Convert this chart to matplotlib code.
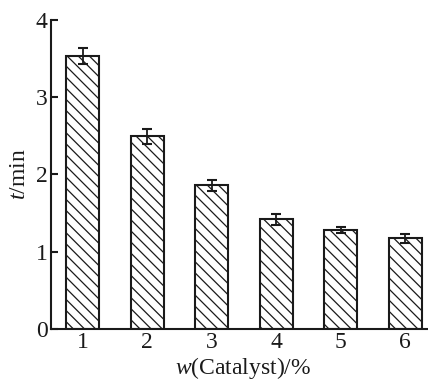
import matplotlib
matplotlib.use("Agg")
import matplotlib.pyplot as plt
import numpy as np

plt.rcParams["font.family"] = "Liberation Serif"
plt.rcParams["mathtext.fontset"] = "custom"
plt.rcParams["mathtext.rm"] = "Liberation Serif"
plt.rcParams["mathtext.it"] = "Liberation Serif:italic"
plt.rcParams["hatch.linewidth"] = 0.9

# catalyst content (%) and reaction time (min)
catalyst = [1, 2, 3, 4, 5, 6]
time_min = [3.53, 2.49, 1.855, 1.42, 1.28, 1.17]
time_err = [0.10, 0.10, 0.065, 0.07, 0.035, 0.055]

fig = plt.figure(figsize=(4.28, 3.83), dpi=100)
ax = fig.add_axes([0.118, 0.141, 0.88, 0.808])

ax.bar(catalyst, time_min, width=0.51, color="white", edgecolor="#1a1a1a",
       linewidth=1.5, hatch="\\\\\\")
ax.errorbar(catalyst, time_min, yerr=time_err, fmt="none", ecolor="#1a1a1a",
            elinewidth=1.3, capsize=3.3, capthick=1.5)

ax.set_xlim(0.5, 6.34)
ax.set_ylim(0, 4)
ax.set_yticks([0, 1, 2, 3, 4])
ax.set_xticks(catalyst)

for s in ["top", "right"]:
    ax.spines[s].set_visible(False)
for s in ["left", "bottom"]:
    ax.spines[s].set_linewidth(1.5)
    ax.spines[s].set_color("#1a1a1a")

ax.tick_params(axis="y", direction="in", length=5, width=1.5, labelsize=17,
               pad=2, colors="#1a1a1a")
ax.tick_params(axis="x", length=0, labelsize=17, pad=2, colors="#1a1a1a")

ax.set_ylabel(r"$t$/min", fontsize=17, color="#1a1a1a")
ax.yaxis.set_label_coords(-0.054, 0.5)
ax.set_xlabel(r"$w$(Catalyst)/%", fontsize=17, color="#1a1a1a")
ax.xaxis.set_label_coords(0.511, -0.083)

fig.savefig("out.png", dpi=100)
